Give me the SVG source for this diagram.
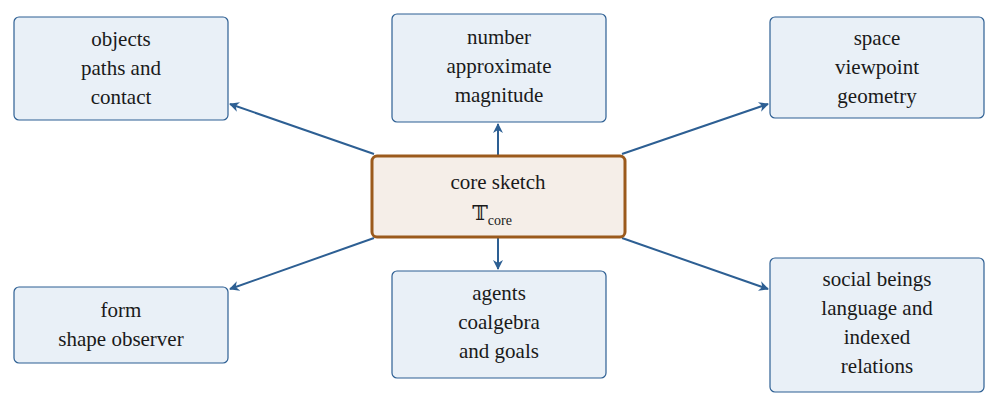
<svg xmlns="http://www.w3.org/2000/svg" width="998" height="407" viewBox="0 0 998 407">
<style>
.n{fill:#e9f0f7;stroke:#2d5f93;stroke-width:1.2}
.c{fill:#f5eee8;stroke:#9b5a1c;stroke-width:3}
text{font-family:"Liberation Serif","DejaVu Serif",serif;font-size:21px;fill:#1a1a1a;text-anchor:middle}
.e{stroke:#2d5f93;stroke-width:2;fill:none;marker-end:url(#a)}
</style>
<defs><marker id="a" viewBox="0 0 10 10" refX="9" refY="5" markerWidth="5" markerHeight="5" orient="auto"><path d="M0,0L10,5L0,10L3,5z" fill="#2d5f93"/></marker></defs>
<g id="edges">
<line class="e" x1="374" y1="154" x2="230" y2="104"/>
<line class="e" x1="498" y1="155" x2="498" y2="124"/>
<line class="e" x1="622" y1="154" x2="768" y2="104"/>
<line class="e" x1="374" y1="238" x2="230" y2="289"/>
<line class="e" x1="498" y1="238" x2="498" y2="269"/>
<line class="e" x1="622" y1="238" x2="768" y2="289"/>
</g>
<g id="objects"><rect class="n" x="14" y="17" width="214" height="103" rx="5"/><text x="121" y="46">objects</text><text x="121" y="75">paths and</text><text x="121" y="104">contact</text></g>
<g id="number"><rect class="n" x="392" y="14" width="214" height="108" rx="5"/><text x="499" y="44">number</text><text x="499" y="73">approximate</text><text x="499" y="102">magnitude</text></g>
<g id="space"><rect class="n" x="770" y="17" width="214" height="101" rx="5"/><text x="877" y="45">space</text><text x="877" y="74">viewpoint</text><text x="877" y="103">geometry</text></g>
<g id="core"><rect class="c" x="372" y="156" width="253" height="81" rx="5"/><text x="498" y="189">core sketch</text><text x="492" y="220">𝕋<tspan font-size="14" dy="5">core</tspan></text></g>
<g id="form"><rect class="n" x="14" y="287" width="214" height="76" rx="5"/><text x="121" y="317">form</text><text x="121" y="346">shape observer</text></g>
<g id="agents"><rect class="n" x="392" y="271" width="214" height="107" rx="5"/><text x="499" y="300">agents</text><text x="499" y="329">coalgebra</text><text x="499" y="358">and goals</text></g>
<g id="social"><rect class="n" x="770" y="258" width="214" height="134" rx="5"/><text x="877" y="286">social beings</text><text x="877" y="315">language and</text><text x="877" y="344">indexed</text><text x="877" y="373">relations</text></g>
</svg>
